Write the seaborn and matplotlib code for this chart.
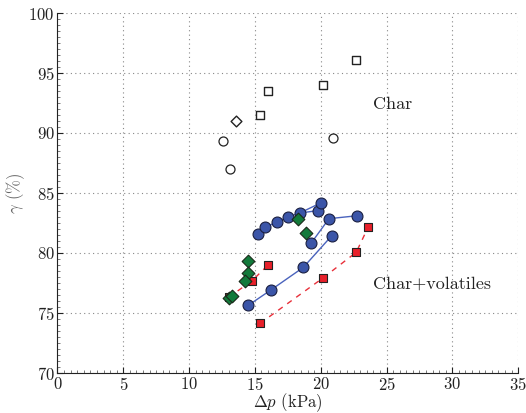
import matplotlib
matplotlib.use("Agg")
import matplotlib.pyplot as plt
import seaborn as sns
import pandas as pd
from matplotlib.ticker import MultipleLocator

# ---- data ----
char_sq_x = [15.4, 16.0, 20.2, 22.7]
char_sq_y = [91.5, 93.5, 94.0, 96.1]
char_di_x = [13.6]
char_di_y = [91.0]
char_ci_x = [12.6, 13.1, 20.9]
char_ci_y = [89.3, 87.0, 89.6]

blue_a_x = [15.26, 15.8, 16.7, 17.54, 18.4, 19.77]
blue_a_y = [81.58, 82.14, 82.6, 83.0, 83.33, 83.53]
blue_b_x = [18.4, 20.0]
blue_b_y = [83.33, 84.17]
blue_c_x = [14.5, 16.22, 18.68, 20.84]
blue_c_y = [75.64, 76.92, 78.8, 81.44]
blue_d_x = [19.3, 20.63, 22.73]
blue_d_y = [80.86, 82.86, 83.1]

red_a_x = [13.0, 14.8, 16.0]
red_a_y = [76.3, 77.7, 79.0]
red_b_x = [15.4, 20.2, 22.7, 23.6]
red_b_y = [74.14, 77.94, 80.06, 82.14]

green_x = [14.5, 14.5, 14.25, 13.03, 13.24, 18.3, 18.9]
green_y = [79.36, 78.36, 77.7, 76.28, 76.42, 82.83, 81.64]

x_ticks = [0, 5, 10, 15, 20, 25, 30, 35]
y_ticks = [70, 75, 80, 85, 90, 95, 100]

# ---- style ----
sns.set_style("ticks")
plt.rcParams["font.family"] = ["cmr10", "DejaVu Serif"]
plt.rcParams["mathtext.fontset"] = "cm"
plt.rcParams["axes.formatter.use_mathtext"] = True

fig = plt.figure(figsize=(5.26, 4.13), dpi=100)
ax = fig.add_axes([0.1093, 0.0969, 0.8757, 0.8716])

blue_line = "#4a63bd"
blue_fill = "#3b55a8"
red_fill = "#e8202a"
green_fill = "#137a3b"

# lines
for xs, ys in [(blue_a_x, blue_a_y), (blue_b_x, blue_b_y), (blue_c_x, blue_c_y), (blue_d_x, blue_d_y)]:
    sns.lineplot(x=xs, y=ys, sort=False, ax=ax, color=blue_line, lw=1.0, zorder=2)
for xs, ys in [(red_a_x, red_a_y), (red_b_x, red_b_y)]:
    sns.lineplot(x=xs, y=ys, sort=False, ax=ax, color="#e8303a", lw=1.0, dashes=(4, 4), zorder=2)

# markers
sns.scatterplot(x=red_a_x + red_b_x, y=red_a_y + red_b_y, marker="s", s=38,
                color=red_fill, edgecolor="#222222", linewidth=0.8, ax=ax, zorder=3)
sns.scatterplot(x=blue_a_x + blue_b_x[1:] + blue_c_x + blue_d_x,
                y=blue_a_y + blue_b_y[1:] + blue_c_y + blue_d_y,
                marker="o", s=62, color=blue_fill, edgecolor="#1a1f40", linewidth=0.8, ax=ax, zorder=4)
sns.scatterplot(x=green_x, y=green_y, marker="D", s=42, color=green_fill,
                edgecolor="#1a2a1a", linewidth=0.8, ax=ax, zorder=5)

sns.scatterplot(x=char_sq_x, y=char_sq_y, marker="s", s=30, facecolor="white",
                edgecolor="#222222", linewidth=1.0, ax=ax, zorder=4)
sns.scatterplot(x=char_di_x, y=char_di_y, marker="D", s=30, facecolor="white",
                edgecolor="#222222", linewidth=1.0, ax=ax, zorder=4)
sns.scatterplot(x=char_ci_x, y=char_ci_y, marker="o", s=42, facecolor="white",
                edgecolor="#222222", linewidth=0.9, ax=ax, zorder=4)

ax.text(24.0, 92.4, "Char", fontsize=13, va="center", ha="left", color="#222222")
ax.text(24.0, 77.4, "Char+volatiles", fontsize=13, va="center", ha="left", color="#222222")

ax.set_xlim(0, 35)
ax.set_ylim(70, 100)
ax.set_xticks(x_ticks)
ax.set_yticks(y_ticks)
ax.xaxis.set_minor_locator(MultipleLocator(0.5))
ax.yaxis.set_minor_locator(MultipleLocator(0.5))
ax.tick_params(which="major", direction="in", length=4, width=0.8, labelsize=12, colors="#222222", pad=2)
ax.tick_params(which="minor", direction="in", length=2, width=0.5, colors="#444444")
ax.grid(True, which="major", linestyle=(0, (1, 3)), color="#888888", lw=0.8)

for s in ["top", "right"]:
    ax.spines[s].set_visible(False)
for s in ["left", "bottom"]:
    ax.spines[s].set_color("#222222")
    ax.spines[s].set_linewidth(0.8)

ax.set_xlabel(r"$\Delta p$ (kPa)", fontsize=12, color="#222222")
ax.set_ylabel(r"$\gamma$ (%)", fontsize=12, color="#666666")
ax.xaxis.set_label_coords(0.5, -0.052)
ax.yaxis.set_label_coords(-0.066, 0.5)

fig.savefig("out.png", dpi=100)
